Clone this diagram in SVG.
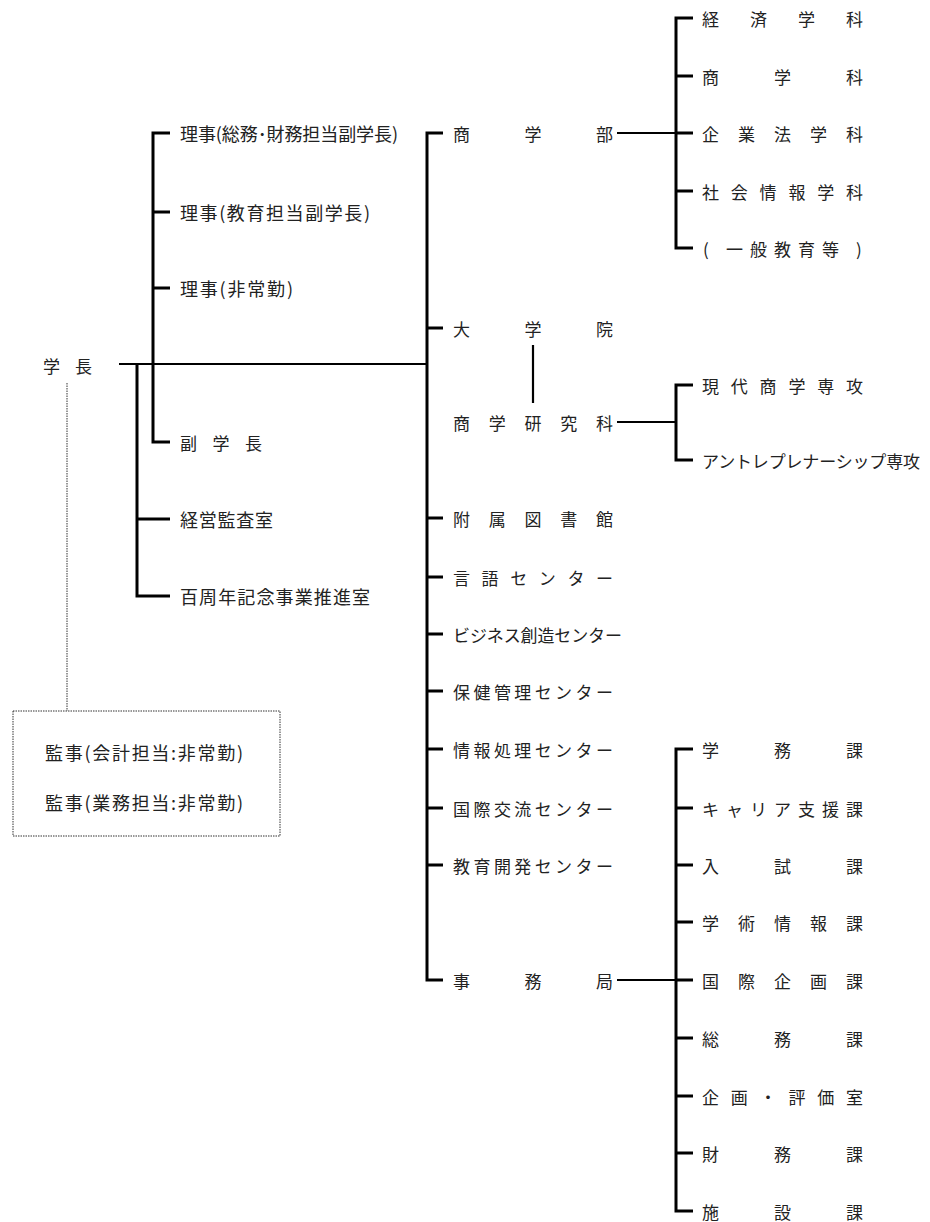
<svg xmlns="http://www.w3.org/2000/svg" width="930" height="1222" viewBox="0 0 930 1222">
<style>
.t{font-family:"Noto Sans CJK JP","Noto Sans",sans-serif;font-size:17px;fill:#222;dominant-baseline:central}
.s{font-size:18px}
.b{stroke:#000;stroke-width:3;fill:none}
.h{stroke:#000;stroke-width:2.2;fill:none}
.d{stroke:#333;stroke-width:1;fill:none;stroke-dasharray:1.5 1}
</style>
<rect width="930" height="1222" fill="#fff"/>
<g id="connectors">
<path class="b" d="M170,133 H153 V442 H170 M153,212 H170 M153,288 H170"/>
<path class="b" d="M137,364 V596 H170 M137,519 H170"/>
<path class="h" d="M119,364 H427"/>
<path class="b" d="M443,133 H427 V980 H443 M427,328 H443 M427,518 H443 M427,577 H443 M427,634 H443 M427,691 H443 M427,749 H443 M427,808 H443 M427,865 H443"/>
<path class="h" d="M617,133 H676"/>
<path class="b" d="M693,18 H676 V248 H693 M676,76 H693 M676,133 H693 M676,191 H693"/>
<path class="h" d="M533,345 V403"/>
<path class="h" d="M617,422 H676"/>
<path class="b" d="M693,385 H676 V460 H693"/>
<path class="h" d="M617,980 H676"/>
<path class="b" d="M693,749 H676 V1211 H693 M676,808 H693 M676,865 H693 M676,922 H693 M676,980 H693 M676,1038 H693 M676,1096 H693 M676,1153 H693"/>
<path class="d" d="M67,383 V711"/>
</g>
<g id="gakucho"><text class="t" x="43 75" y="365">学長</text></g>
<g id="riji1"><text class="t s" x="180" y="133" textLength="218">理事(総務･財務担当副学長)</text></g>
<g id="riji2"><text class="t s" x="180" y="212" textLength="190">理事(教育担当副学長)</text></g>
<g id="riji3"><text class="t s" x="180" y="288" textLength="113">理事(非常勤)</text></g>
<g id="fukugakucho"><text class="t" x="180 212.5 245" y="442">副学長</text></g>
<g id="keiei"><text class="t s" x="180" y="519" textLength="93">経営監査室</text></g>
<g id="hyakushunen"><text class="t s" x="180" y="596" textLength="190">百周年記念事業推進室</text></g>
<g id="kanji">
<rect class="d" x="13" y="711" width="267" height="125"/>
<text class="t s" x="45" y="752" textLength="198">監事(会計担当:非常勤)</text>
<text class="t s" x="45" y="802" textLength="198">監事(業務担当:非常勤)</text>
</g>
<g id="shogakubu"><text class="t" x="453 524.5 596" y="133">商学部</text></g>
<g id="daigakuin"><text class="t" x="453 524.5 596" y="328">大学院</text></g>
<g id="kenkyuka"><text class="t" x="453 488.75 524.5 560.25 596" y="422">商学研究科</text></g>
<g id="toshokan"><text class="t" x="453 488.75 524.5 560.25 596" y="518">附属図書館</text></g>
<g id="gengo"><text class="t" x="453 481.6 510.2 538.8 567.4 596" y="577">言語センター</text></g>
<g id="business"><text class="t" x="453" y="634" textLength="169">ビジネス創造センター</text></g>
<g id="hoken"><text class="t" x="453 473.4 493.9 514.3 534.7 555.1 575.6 596" y="691">保健管理センター</text></g>
<g id="joho"><text class="t" x="453 473.4 493.9 514.3 534.7 555.1 575.6 596" y="749">情報処理センター</text></g>
<g id="kokusai"><text class="t" x="453 473.4 493.9 514.3 534.7 555.1 575.6 596" y="808">国際交流センター</text></g>
<g id="kyoiku"><text class="t" x="453 473.4 493.9 514.3 534.7 555.1 575.6 596" y="865">教育開発センター</text></g>
<g id="jimukyoku"><text class="t" x="453 524.5 596" y="980">事務局</text></g>
<g id="keizai"><text class="t" x="702 750 798 846" y="18">経済学科</text></g>
<g id="shogakka"><text class="t" x="702 774 846" y="76">商学科</text></g>
<g id="kigyoho"><text class="t" x="702 738 774 810 846" y="133">企業法学科</text></g>
<g id="shakai"><text class="t" x="702 730.8 759.6 788.4 817.2 846" y="191">社会情報学科</text></g>
<g id="ippan"><text class="t" x="703 726 750 774 798 822 856" y="248">(一般教育等)</text></g>
<g id="gendai"><text class="t" x="702 730.8 759.6 788.4 817.2 846" y="385">現代商学専攻</text></g>
<g id="antre"><text class="t" x="702" y="460" textLength="218">アントレプレナーシップ専攻</text></g>
<g id="gakumu"><text class="t" x="702 774 846" y="749">学務課</text></g>
<g id="career"><text class="t" x="702 726 750 774 798 822 846" y="808">キャリア支援課</text></g>
<g id="nyushi"><text class="t" x="702 774 846" y="865">入試課</text></g>
<g id="gakujutsu"><text class="t" x="702 738 774 810 846" y="922">学術情報課</text></g>
<g id="kokusaikikaku"><text class="t" x="702 738 774 810 846" y="980">国際企画課</text></g>
<g id="somu"><text class="t" x="702 774 846" y="1038">総務課</text></g>
<g id="kikaku"><text class="t" x="702 730.8 759.6 788.4 817.2 846" y="1096">企画・評価室</text></g>
<g id="zaimu"><text class="t" x="702 774 846" y="1153">財務課</text></g>
<g id="shisetsu"><text class="t" x="702 774 846" y="1211">施設課</text></g>
</svg>
